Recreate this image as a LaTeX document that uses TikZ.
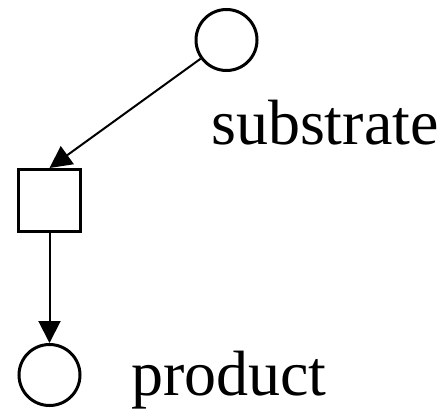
\documentclass[tikz,border=0pt]{standalone}
\usepackage{fontspec}
\setmainfont{Liberation Serif}
\usetikzlibrary{arrows.meta}
\begin{document}
\begin{tikzpicture}[x=1pt,y=1pt,
  place/.style={circle,draw,line width=3pt,minimum size=61pt,inner sep=0pt},
  trans/.style={rectangle,draw,line width=3pt,minimum size=62pt,inner sep=0pt},
  arc/.style={line width=2pt,-{Triangle[length=22pt,width=22pt]}},
  lbl/.style={inner sep=0pt,anchor=base west,font=\fontsize{64}{70}\selectfont}]
\useasboundingbox (0,0) rectangle (443,-414);
\node[place] (s) at (226.5,-40) {};
\node[trans] (t) at (49.5,-200.5) {};
\node[place] (p) at (49.5,-375) {};
\node[lbl] (sl) at (211,-144) {substrate};
\node[lbl] (pl) at (131,-395) {product};
\draw[arc] (s) -- (t.north);
\draw[arc] (t) -- (p);
\end{tikzpicture}
\end{document}
